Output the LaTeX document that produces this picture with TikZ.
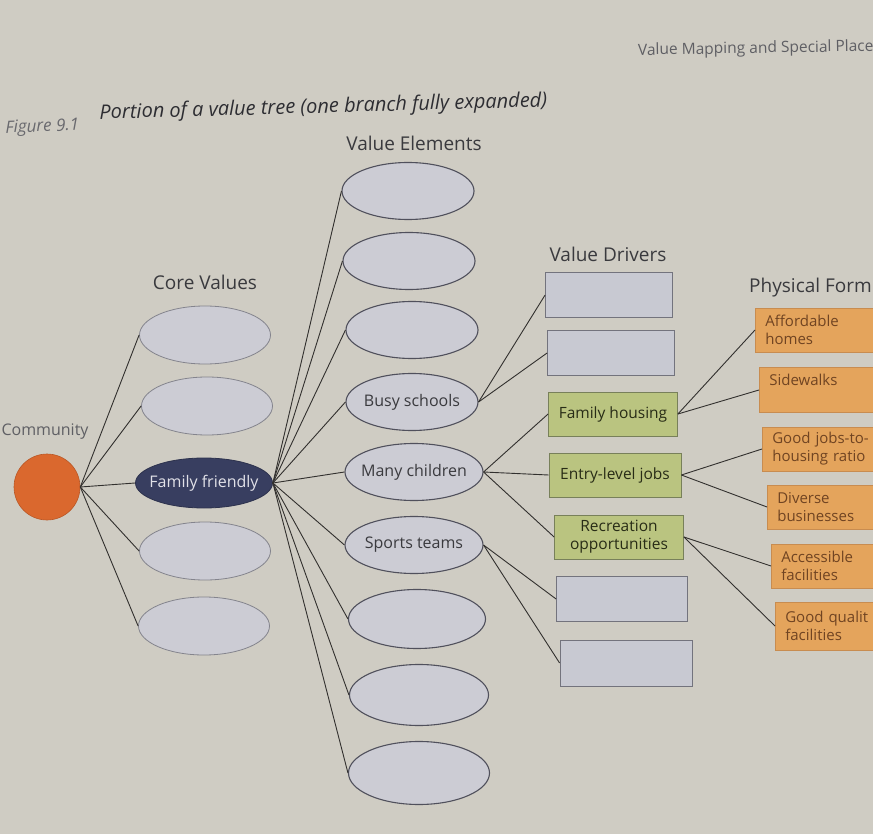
\documentclass[tikz,border=0pt]{standalone}
\usepackage{fontspec}
\setmainfont{Open Sans}
\usetikzlibrary{shapes.geometric}
\definecolor{bg}{RGB}{207,204,195}
\definecolor{ellfill}{RGB}{204,204,212}
\definecolor{elldraw}{RGB}{80,80,92}
\definecolor{navy}{RGB}{56,62,96}
\definecolor{commorange}{RGB}{218,104,46}
\definecolor{greenbox}{RGB}{186,196,128}
\definecolor{greendraw}{RGB}{120,128,90}
\definecolor{orangebox}{RGB}{228,164,92}
\definecolor{orangedraw}{RGB}{200,140,80}
\definecolor{graybox}{RGB}{200,201,210}
\definecolor{txt}{RGB}{58,58,62}
\definecolor{brown}{RGB}{112,68,34}
\definecolor{linec}{RGB}{50,48,46}
\tikzset{
  lbl/.style={font=\fontsize{19}{21}\selectfont, text=txt},
  coreell/.style={ellipse, draw=elldraw!70, line width=0.8pt, fill=ellfill, minimum width=131pt, minimum height=58pt, inner xsep=-14pt, inner ysep=0pt, font=\fontsize{16}{18}\selectfont, text=txt},
  veell/.style={ellipse, draw=elldraw, line width=1.1pt, fill=ellfill, minimum width=132pt, minimum height=57pt, inner xsep=-14pt, inner ysep=0pt, font=\fontsize{16}{18}\selectfont, text=txt},
  vdbox/.style={rectangle, draw=elldraw!80, line width=0.8pt, fill=graybox, minimum width=127pt, minimum height=45pt, inner sep=0pt},
  greenb/.style={rectangle, draw=greendraw, line width=0.8pt, fill=greenbox, minimum width=129pt, minimum height=44pt, inner xsep=2pt, inner ysep=0pt, align=center, font=\fontsize{15.5}{18}\selectfont, text={rgb,255:red,40;green,44;blue,22}},
  orangeb/.style={rectangle, draw=orangedraw, line width=0.6pt, fill=orangebox, minimum width=140pt, minimum height=44pt, anchor=west, inner xsep=9pt, inner ysep=0pt, text width=120pt, align=left, font=\fontsize{15}{18}\selectfont, text=brown},
  conn/.style={draw=linec, line width=0.9pt},
}
\begin{document}
\begin{tikzpicture}[x=1pt,y=-1pt]
\fill[bg] (0,0) rectangle (873,834);
\useasboundingbox (0,0) rectangle (873,834);
\clip (0,0) rectangle (873,834);

% titles
\node[anchor=west, rotate=2, font=\fontsize{17}{19}\selectfont\itshape, text={rgb,255:red,105;green,105;blue,110}] (fig) at (2,129) {Figure 9.1};
\node[anchor=west, rotate=1.6, font=\fontsize{20}{22}\selectfont\itshape, text={rgb,255:red,45;green,45;blue,50}] (title) at (96,114) {Portion of a value tree (one branch fully expanded)};
\node[anchor=east, rotate=1, font=\fontsize{15.5}{17}\selectfont, text={rgb,255:red,95;green,95;blue,100}] (hdr) at (877,47) {Value Mapping and Special Place};

% column labels
\node[lbl] (lcore) at (205,282) {Core Values};
\node[lbl] (lve) at (414,143) {Value Elements};
\node[lbl] (lvd) at (608,254) {Value Drivers};
\node[lbl, anchor=west, inner xsep=0pt] (lpf) at (749,288) {Physical Form};
\node[lbl, font=\fontsize{16}{18}\selectfont, text={rgb,255:red,95;green,95;blue,100}] (lcomm) at (45,432) {Community};

% community
\node[circle, fill=commorange, draw=commorange!85!black, line width=0.6pt, minimum size=66pt, inner sep=0pt] (comm) at (47,487) {};

% core values
\node[coreell] (c1) at (205,335) {};
\node[coreell] (c2) at (207,406) {};
\node[coreell, fill=navy, draw=navy!80!black, minimum width=137pt, minimum height=50pt, text={rgb,255:red,225;green,225;blue,232}] (c3) at (204,483) {Family friendly};
\node[coreell] (c4) at (205,551) {};
\node[coreell] (c5) at (204,626) {};

% value elements
\node[veell] (v1) at (408,191) {};
\node[veell] (v2) at (409,261) {};
\node[veell] (v3) at (412,330) {};
\node[veell] (v4) at (412,402) {Busy schools};
\node[veell, minimum width=138pt] (v5) at (414,472) {Many children};
\node[veell, minimum width=138pt] (v6) at (414,545) {Sports teams};
\node[veell, minimum width=137pt, minimum height=59pt] (v7) at (417,619) {};
\node[veell, minimum width=139pt, minimum height=61pt] (v8) at (419,695) {};
\node[veell, minimum width=141pt, minimum height=63pt] (v9) at (419,773) {};

% value drivers
\node[vdbox] (d1) at (609,295) {};
\node[vdbox] (d2) at (611,353) {};
\node[greenb] (d3) at (613,414) {Family housing};
\node[greenb, minimum width=132pt] (d4) at (615,475) {Entry-level jobs};
\node[greenb] (d5) at (619,537) {Recreation\\opportunities};
\node[vdbox, minimum width=131pt] (d6) at (622,599) {};
\node[vdbox, minimum width=132pt, minimum height=46pt] (d7) at (626,663) {};

% physical form
\node[orangeb] (p1) at (755,330) {Affordable\\homes};
\node[orangeb, minimum height=45pt] (p2) at (759,390) {Sidewalks\\[2pt]\mbox{}};
\node[orangeb, inner xsep=7pt] (p3) at (762,449) {Good jobs-to-\\housing ratio};
\node[orangeb] (p4) at (767,507) {Diverse\\businesses};
\node[orangeb] (p5) at (771,566) {Accessible\\facilities};
\node[orangeb, minimum height=48pt, inner xsep=7pt] (p6) at (775,626) {Good qualit\\facilities};

% connectors
\foreach \c in {c1,c2,c3,c4,c5} \draw[conn] (comm.east) -- (\c.west);
\foreach \v in {v1,v2,v3,v4,v5,v6,v7,v8,v9} \draw[conn] (c3.east) -- (\v.west);
\draw[conn] (v4.east) -- (d1.west);
\draw[conn] (v4.east) -- (d2.west);
\draw[conn] (v5.east) -- (d3.west);
\draw[conn] (v5.east) -- (d4.west);
\draw[conn] (v5.east) -- (d5.west);
\draw[conn] (v6.east) -- (d6.west);
\draw[conn] (v6.east) -- (d7.west);
\draw[conn] (d3.east) -- (p1.west);
\draw[conn] (d3.east) -- (p2.west);
\draw[conn] (d4.east) -- (p3.west);
\draw[conn] (d4.east) -- (p4.west);
\draw[conn] (d5.east) -- (p5.west);
\draw[conn] (d5.east) -- (p6.west);
\end{tikzpicture}
\end{document}
